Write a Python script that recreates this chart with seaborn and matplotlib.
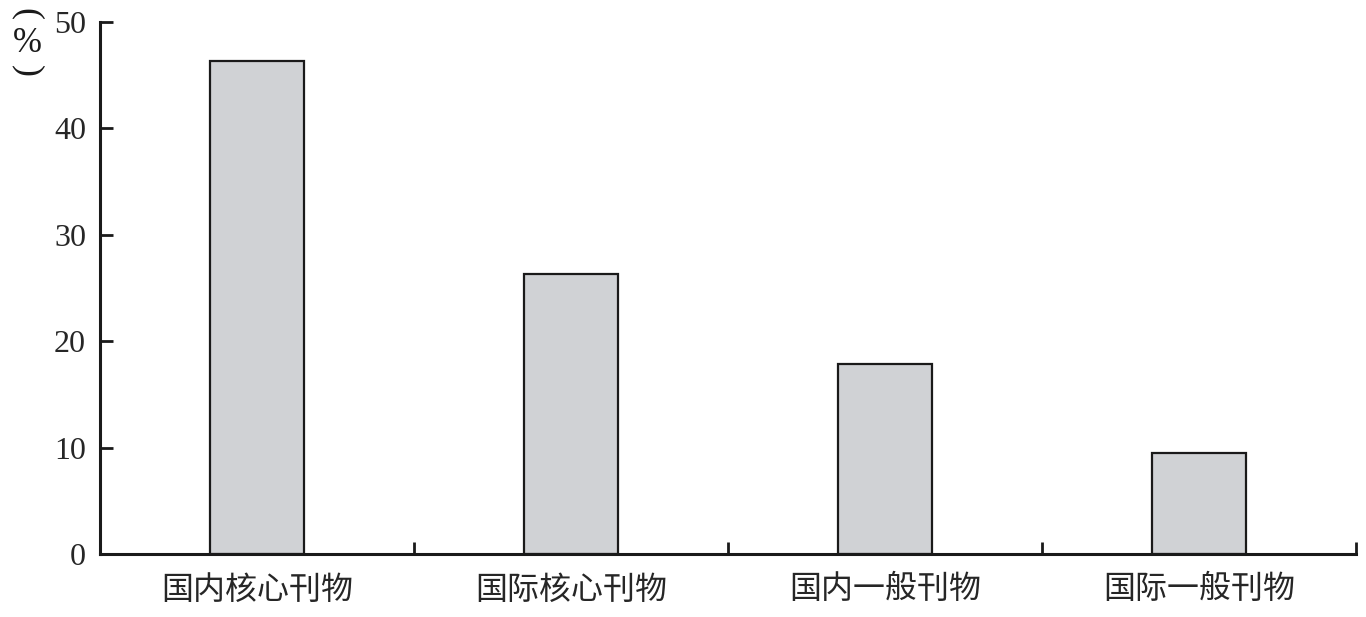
import matplotlib
matplotlib.use("Agg")
import matplotlib.pyplot as plt
import seaborn as sns
import pandas as pd
import numpy as np

categories = ["国内核心刊物", "国际核心刊物", "国内一般刊物", "国际一般刊物"]
values = [46.3, 26.3, 17.9, 9.5]
y_ticks = [0, 10, 20, 30, 40, 50]

sns.set_theme(style="ticks")
plt.rcParams['font.family'] = ['Liberation Serif', 'Noto Sans CJK SC']

df = pd.DataFrame({"cat": categories, "val": values})

fig = plt.figure(figsize=(13.66, 6.17), dpi=100)
ax = fig.add_axes([100/1366, 1-554/617, 1256/1366, 532/617])

sns.barplot(data=df, x="cat", y="val", ax=ax, width=0.3, color="#d0d2d5",
            saturation=1, edgecolor="#1a1a1a", linewidth=1.6)

ax.set_xlim(-0.5, len(categories) - 0.5)
ax.set_ylim(0, 50)
ax.set_yticks(y_ticks)
ax.set_yticklabels([str(t) for t in y_ticks], fontsize=23, family='Liberation Serif')
ax.set_xticks(range(len(categories)))
ax.set_xticklabels(categories, fontsize=23, family='Noto Sans CJK SC')
ax.tick_params(axis='x', which='major', length=0, pad=14)
ax.set_xticks(np.arange(0.5, len(categories), 1.0), minor=True)
ax.tick_params(axis='x', which='minor', direction='in', length=9, width=2, color='#1a1a1a')
ax.tick_params(axis='y', which='major', direction='in', length=9, width=2, color='#1a1a1a', pad=10)
ax.set_xlabel("")
ax.set_ylabel("")

for s in ["top", "right"]:
    ax.spines[s].set_visible(False)
for s in ["left", "bottom"]:
    ax.spines[s].set_linewidth(2.2)
    ax.spines[s].set_color('#1a1a1a')

fig.text(27/1366, 1-14/617, "(", rotation=-90, ha='center', va='center', fontsize=26,
         family='Liberation Serif', color='#1a1a1a')
fig.text(27/1366, 1-43/617, "%", ha='center', va='center', fontsize=25,
         family='Liberation Serif', color='#1a1a1a')
fig.text(27/1366, 1-71/617, ")", rotation=-90, ha='center', va='center', fontsize=26,
         family='Liberation Serif', color='#1a1a1a')

fig.savefig("out.png", dpi=100, facecolor='white')
